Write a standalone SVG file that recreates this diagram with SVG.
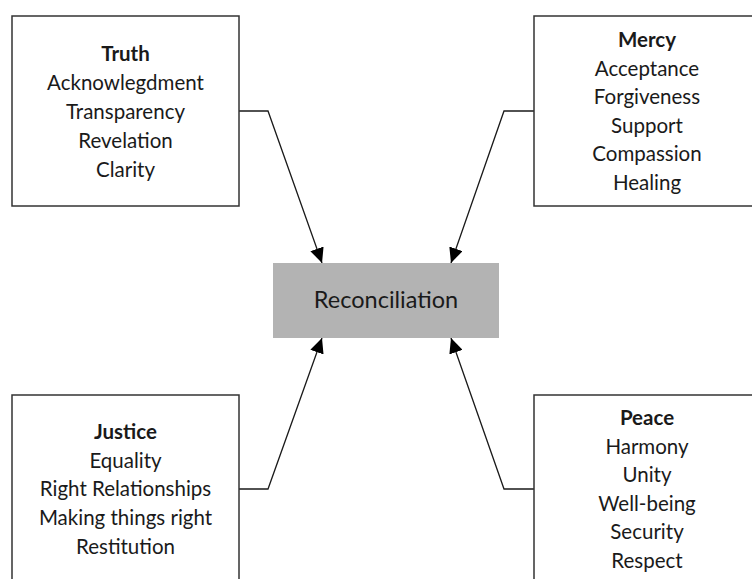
<svg xmlns="http://www.w3.org/2000/svg" width="752" height="579" viewBox="0 0 752 579">
<style>
.box{fill:#fff;stroke:#333;stroke-width:1.5}
.t{font-family:Lato,"Open Sans","Liberation Sans",sans-serif;font-size:20.5px;fill:#1a1a1a;text-anchor:middle}
.h{font-weight:bold}
.c{fill:none;stroke:#1a1a1a;stroke-width:1.3}
</style>
<defs>
<marker id="ah" viewBox="0 0 15 14" refX="15" refY="7" markerWidth="15" markerHeight="14" markerUnits="userSpaceOnUse" orient="auto">
<path d="M0,0 L15,7 L0,14 Z" fill="#000"/>
</marker>
</defs>
<rect width="752" height="579" fill="#fff"/>
<g id="connectors">
<polyline class="c" points="239,111 268,111 322,263" marker-end="url(#ah)"/>
<polyline class="c" points="534,111 504,111 451,263" marker-end="url(#ah)"/>
<polyline class="c" points="239,489 268,489 322,338" marker-end="url(#ah)"/>
<polyline class="c" points="534,489 504,489 451,338" marker-end="url(#ah)"/>
</g>
<g id="truth">
<rect class="box" x="12" y="16" width="227" height="190"/>
<text class="t h" x="125.5" y="61">Truth</text>
<text class="t" x="125.5" y="89.5">Acknowlegdment</text>
<text class="t" x="125.5" y="118.5">Transparency</text>
<text class="t" x="125.5" y="147.5">Revelation</text>
<text class="t" x="125.5" y="176.5">Clarity</text>
</g>
<g id="mercy">
<rect class="box" x="534" y="16" width="227" height="190"/>
<text class="t h" x="647" y="47">Mercy</text>
<text class="t" x="647" y="75.5">Acceptance</text>
<text class="t" x="647" y="104">Forgiveness</text>
<text class="t" x="647" y="132.5">Support</text>
<text class="t" x="647" y="161">Compassion</text>
<text class="t" x="647" y="189.5">Healing</text>
</g>
<g id="reconciliation">
<rect x="273" y="263" width="226" height="75" fill="#b3b3b3"/>
<text class="t" x="386" y="308" style="font-size:23.5px">Reconciliation</text>
</g>
<g id="justice">
<rect class="box" x="12" y="395" width="227" height="200"/>
<text class="t h" x="125.5" y="439">Justice</text>
<text class="t" x="125.5" y="467.5">Equality</text>
<text class="t" x="125.5" y="496">Right Relationships</text>
<text class="t" x="125.5" y="525">Making things right</text>
<text class="t" x="125.5" y="554">Restitution</text>
</g>
<g id="peace">
<rect class="box" x="534" y="395" width="227" height="200"/>
<text class="t h" x="647" y="425">Peace</text>
<text class="t" x="647" y="453.5">Harmony</text>
<text class="t" x="647" y="482">Unity</text>
<text class="t" x="647" y="510.5">Well-being</text>
<text class="t" x="647" y="539">Security</text>
<text class="t" x="647" y="567.5">Respect</text>
</g>
</svg>
